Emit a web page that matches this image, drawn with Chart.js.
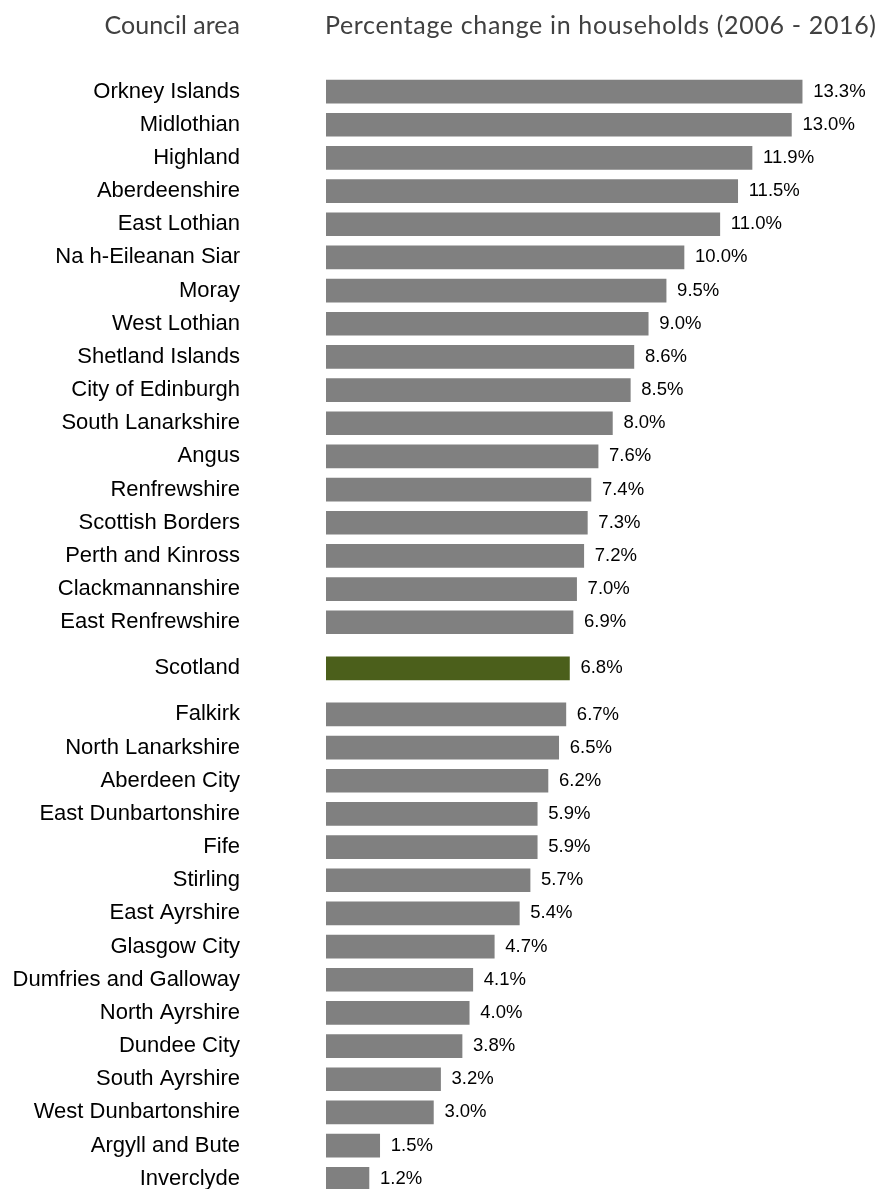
<!DOCTYPE html>
<html>
<head>
<meta charset="utf-8">
<script src="https://cdn.jsdelivr.net/npm/chart.js@4/dist/chart.umd.min.js"></script>
<style>
  html, body { margin: 0; padding: 0; background: #fff; }
  #wrap { position: relative; width: 883px; height: 1189px; overflow: hidden; }
  .hdr { position: absolute; top: 8px; font-family: Lato, "Open Sans", sans-serif; font-size: 25px; color: #404040; white-space: nowrap; line-height: 32px; }
  #h1 { right: 643px; }
  #h2 { left: 325px; letter-spacing: 0.65px; }
  canvas { position: absolute; left: 0; top: 0; }
</style>
</head>
<body>
<div id="wrap">
  <canvas id="c" width="883" height="1189"></canvas>
  <div class="hdr" id="h1">Council area</div>
  <div class="hdr" id="h2">Percentage change in households (2006 - 2016)</div>
</div>
<script>
const categories = [
  "Orkney Islands","Midlothian","Highland","Aberdeenshire","East Lothian",
  "Na h-Eileanan Siar","Moray","West Lothian","Shetland Islands","City of Edinburgh",
  "South Lanarkshire","Angus","Renfrewshire","Scottish Borders","Perth and Kinross",
  "Clackmannanshire","East Renfrewshire","Scotland","Falkirk","North Lanarkshire",
  "Aberdeen City","East Dunbartonshire","Fife","Stirling","East Ayrshire",
  "Glasgow City","Dumfries and Galloway","North Ayrshire","Dundee City","South Ayrshire",
  "West Dunbartonshire","Argyll and Bute","Inverclyde"
];
const values = [
  13.3, 13.0, 11.9, 11.5, 11.0,
  10.0, 9.5, 9.0, 8.6, 8.5,
  8.0, 7.6, 7.4, 7.3, 7.2,
  7.0, 6.9, 6.8, 6.7, 6.5,
  6.2, 5.9, 5.9, 5.7, 5.4,
  4.7, 4.1, 4.0, 3.8, 3.2,
  3.0, 1.5, 1.2
];
const highlight = "Scotland";

const GAP = 0.39;
const hlIndex = categories.indexOf(highlight);
const positions = categories.map((c, i) => i + (i >= hlIndex ? GAP : 0) + (i > hlIndex ? GAP : 0));
const labelByPos = new Map(positions.map((p, i) => [p.toFixed(3), categories[i]]));

const valueLabels = {
  id: 'valueLabels',
  afterDatasetsDraw(chart) {
    const ctx = chart.ctx;
    const meta = chart.getDatasetMeta(0);
    ctx.save();
    ctx.font = '18.5px "Liberation Sans", Arial, sans-serif';
    ctx.fillStyle = '#000';
    ctx.textBaseline = 'middle';
    ctx.textAlign = 'left';
    meta.data.forEach((bar, i) => {
      ctx.fillText(values[i].toFixed(1) + '%', bar.x + 11, bar.y);
    });
    ctx.restore();
  }
};

new Chart(document.getElementById('c'), {
  type: 'bar',
  data: {
    datasets: [{
      data: values.map((v, i) => ({ x: v, y: positions[i] })),
      backgroundColor: categories.map(c => c === highlight ? '#4b5f1b' : '#808080'),
      barThickness: 23,
      borderWidth: 0
    }]
  },
  options: {
    indexAxis: 'y',
    responsive: false,
    animation: false,
    layout: { padding: { top: 75, right: 20, left: 0, bottom: 0 } },
    plugins: { legend: { display: false }, tooltip: { enabled: false } },
    scales: {
      x: { type: 'linear', min: 0, max: 15, display: false },
      y: {
        type: 'linear',
        reverse: true,
        offset: false,
        min: -0.5,
        max: 33.09,
        grid: { display: false, drawTicks: false },
        border: { display: false },
        afterFit: (s) => { s.width = 326; s.paddingTop = 0; s.paddingBottom = 0; },
        afterBuildTicks: (s) => { s.ticks = positions.map(p => ({ value: p })); },
        ticks: {
          autoSkip: false,
          padding: 86,
          color: '#000',
          font: { family: '"Liberation Sans", Arial, sans-serif', size: 22 },
          callback: (v) => labelByPos.get(Number(v).toFixed(3)) || ''
        }
      }
    }
  },
  plugins: [valueLabels]
});
</script>
</body>
</html>
